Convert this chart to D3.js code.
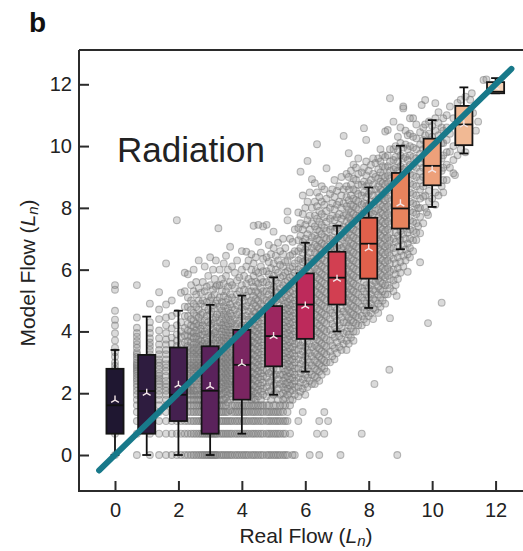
<!DOCTYPE html>
<html>
<head>
<meta charset="utf-8">
<script src="https://cdn.jsdelivr.net/npm/d3@7"></script>
<style>
  body { margin: 0; background: #fff; }
  svg { display: block; font-family: "Liberation Sans", Arial, sans-serif; }
</style>
</head>
<body>
<div id="chart"></div>
<script>
// box statistics per real-flow bin (ln units)
var bins        = [0, 1, 2, 3, 4, 5, 6, 7, 8, 9, 10, 11, 12];
var whiskerLow  = [0, 0, 0, 0, 0.69, 1.95, 2.70, 4.00, 4.76, 6.66, 8.03, 9.76, 11.71];
var q1          = [0.69, 0.69, 1.10, 0.69, 1.79, 2.87, 3.76, 4.87, 5.71, 7.33, 8.73, 10.03, 11.71];
var medians     = [1.61, 2.07, 1.95, 2.08, 2.92, 3.85, 4.87, 5.74, 6.84, 7.98, 9.36, 10.70, 11.76];
var q3          = [2.79, 3.24, 3.48, 3.52, 4.05, 4.82, 5.88, 6.58, 7.68, 9.13, 10.24, 11.30, 12.07];
var whiskerHigh = [3.40, 4.48, 4.67, 4.86, 5.16, 5.75, 6.87, 7.42, 8.66, 10.01, 10.84, 11.90, 12.20];
var means       = [1.78, 2.00, 2.26, 2.22, 2.96, 3.84, 4.82, 5.69, 6.68, 8.13, 9.22, 10.69, 11.90];
var boxColors   = ["#1f1731", "#2e1c3f", "#44204f", "#5a225b", "#7a2561", "#9c2760", "#bd2a5b",
                   "#d23f51", "#e0604b", "#e8835d", "#eda07a", "#f1b994", "#f6d3b8"];

var xTicks = [0, 2, 4, 6, 8, 10, 12];
var yTicks = [0, 2, 4, 6, 8, 10, 12];

// scattered (real, model) flow points, listed as columns: [x, [y, y, ...]]
var scatterColumns = [
  [0,    [0, 0.69, 1.10, 1.39, 1.61, 1.79, 1.95, 2.08, 2.2, 2.3, 2.4, 2.48, 2.56, 2.64, 2.77, 2.89, 3.0, 3.18, 3.33, 3.47, 3.71, 3.94, 4.19, 4.38, 4.67, 5.35, 5.5]],
  [0.69, [0, 0.69, 1.10, 1.39, 1.61, 1.79, 1.95, 2.08, 2.2, 2.3, 2.4, 2.48, 2.56, 2.64, 2.71, 2.77, 2.83, 2.89, 2.94, 3.0, 3.09, 3.18, 3.26, 3.33, 3.47, 3.58, 3.69, 3.83, 3.95, 4.12, 4.45, 5.5]],
  [1.10, [0, 0.69, 1.1, 1.39, 1.61, 1.79, 1.95, 2.08, 2.2, 2.3, 2.4, 2.56, 2.71, 2.83, 2.94, 3.09, 3.26, 3.4, 3.53, 3.64, 3.78, 3.95, 4.11, 4.3, 4.9]],
  [1.39, [0, 0.69, 1.1, 1.39, 1.61, 1.79, 1.95, 2.08, 2.2, 2.3, 2.4, 2.48, 2.56, 2.64, 2.77, 2.89, 3.0, 3.09, 3.26, 3.4, 3.58, 3.78, 4.03, 4.4, 4.71, 5.27]],
  [1.61, [0, 0.69, 1.1, 1.39, 1.61, 1.79, 1.95, 2.08, 2.2, 2.3, 2.4, 2.56, 2.71, 2.83, 2.94, 3.09, 3.26, 3.4, 3.58, 3.74, 3.95, 4.2, 4.45, 4.87, 6.2]],
  [1.79, [0, 0.69, 1.1, 1.39, 1.61, 2.08, 2.56, 3.0, 3.6, 3.8, 4.1, 4.5, 5.0]],
  [1.95, [0, 0.69, 1.1, 1.61, 2.3, 2.89, 3.53, 3.7, 3.9, 4.2, 4.6, 7.6]],
  [2.08, [0, 0.69, 1.1, 1.39, 1.95, 2.64, 3.58, 3.83, 4.0, 4.3, 5.25]],
  [2.20, [0, 0.69, 1.1, 1.61, 2.2, 3.0, 3.64, 3.87, 4.11, 4.5, 4.8, 5.3, 5.9]],
  [2.30, [0, 0.69, 1.1, 1.39, 1.61, 1.79, 1.95, 2.08, 2.2, 2.3, 2.4, 2.56, 2.71, 2.83, 2.94, 3.09, 3.26, 3.4, 3.53, 3.69, 3.87, 4.03, 4.25, 4.5, 4.79, 5.1, 5.85]],
  [2.40, [0, 0.69, 1.1, 1.39, 1.61, 1.79, 1.95, 2.08, 2.2, 2.3, 2.48, 2.64, 2.77, 2.89, 3.0, 3.18, 3.33, 3.47, 3.64, 3.83, 4.0, 4.2, 4.4, 4.7, 5.0, 5.5]],
  [2.48, [0, 0.69, 1.1, 1.39, 1.61, 1.79, 1.95, 2.08, 2.2, 2.4, 2.56, 2.71, 2.83, 2.94, 3.09, 3.26, 3.4, 3.58, 3.78, 3.95, 4.15, 4.35, 4.6, 4.9, 5.3, 6.0]],
  [2.56, [0, 0.69, 1.1, 1.39, 1.61, 1.79, 1.95, 2.08, 2.3, 2.48, 2.64, 2.77, 2.89, 3.0, 3.18, 3.33, 3.47, 3.64, 3.83, 4.03, 4.25, 4.5, 4.79, 5.2, 5.6]],
  [2.64, [0, 0.69, 1.1, 1.39, 1.61, 1.79, 1.95, 2.2, 2.4, 2.56, 2.71, 2.83, 2.94, 3.09, 3.26, 3.4, 3.58, 3.74, 3.95, 4.2, 4.45, 4.7, 5.0, 5.4, 6.3]],
  [2.71, [0, 0.69, 1.1, 1.39, 1.61, 1.79, 1.95, 2.08, 2.3, 2.48, 2.64, 2.77, 2.89, 3.0, 3.18, 3.33, 3.53, 3.69, 3.87, 4.08, 4.3, 4.55, 4.9, 5.25]],
  [2.77, [0, 0.69, 1.1, 1.61, 2.2, 3.6, 3.9, 4.2, 4.6, 5.0, 5.6]],
  [2.83, [0, 0.69, 1.39, 1.95, 2.64, 3.7, 4.0, 4.35, 4.8, 5.3, 6.1]],
  [2.89, [0, 0.69, 1.1, 1.79, 2.48, 3.58, 3.8, 4.1, 4.5, 4.95, 5.45]],
  [2.94, [0, 0.69, 1.61, 2.3, 3.0, 3.66, 3.95, 4.3, 4.7, 5.15, 5.8]],
  [3.00, [0, 0.69, 1.39, 2.08, 2.83, 3.55, 3.85, 4.2, 4.55, 5.0, 5.5, 6.4]],
  [3.04, [0, 0.69, 1.1, 1.95, 2.64, 3.6, 3.9, 4.25, 4.65, 5.1]],
  [3.09, [0, 0.69, 1.79, 2.56, 3.26, 3.75, 4.05, 4.4, 4.85, 5.35, 6.0]],
  [3.14, [0, 0.69, 1.39, 2.2, 3.0, 3.62, 3.95, 4.3, 4.75, 5.2, 5.7]],
  [3.18, [0, 0.69, 1.1, 1.95, 2.77, 3.7, 4.0, 4.45, 4.9, 5.45, 6.3]],
  [3.22, [0, 0.69, 1.61, 2.4, 3.18, 3.8, 4.15, 4.55, 5.0, 5.5]],
  [3.26, [7.34]],
  [3.30, [0, 0.69, 1.1, 1.39, 1.61, 1.79, 1.95, 2.08, 2.2, 2.4, 2.56, 2.71, 2.89, 3.05, 3.2, 3.38, 3.55, 3.72, 3.9, 4.1, 4.3, 4.55, 4.8, 5.1, 5.5, 6.0]],
  [3.37, [0, 0.69, 1.1, 1.39, 1.61, 1.79, 1.95, 2.15, 2.3, 2.48, 2.64, 2.8, 2.97, 3.12, 3.3, 3.47, 3.63, 3.8, 4.0, 4.2, 4.42, 4.68, 4.95, 5.3, 5.7]],
  [3.43, [0, 0.69, 1.1, 1.39, 1.61, 1.79, 2.0, 2.2, 2.36, 2.52, 2.7, 2.86, 3.02, 3.18, 3.35, 3.52, 3.7, 3.88, 4.08, 4.3, 4.55, 4.82, 5.15, 5.55, 6.2]],
  [3.50, [0, 0.69, 1.1, 1.39, 1.61, 1.85, 2.05, 2.25, 2.43, 2.6, 2.77, 2.93, 3.1, 3.27, 3.44, 3.6, 3.78, 3.97, 4.17, 4.4, 4.65, 4.95, 5.3, 5.8, 6.45]],
  [3.56, [0, 0.69, 1.1, 1.39, 1.7, 1.95, 2.12, 2.3, 2.5, 2.66, 2.83, 3.0, 3.16, 3.33, 3.5, 3.68, 3.86, 4.05, 4.25, 4.5, 4.75, 5.05, 5.45, 6.0]],
  [3.63, [0, 0.69, 1.1, 1.45, 1.79, 2.0, 2.2, 2.38, 2.56, 2.74, 2.9, 3.07, 3.24, 3.4, 3.58, 3.76, 3.95, 4.15, 4.37, 4.6, 4.88, 5.2, 5.6, 6.74]],
  [3.69, [0, 0.69, 1.1, 1.39, 1.61, 1.9, 2.1, 2.28, 2.46, 2.64, 2.82, 3.0, 3.15, 3.32, 3.5, 3.67, 3.85, 4.05, 4.27, 4.5, 4.78, 5.1, 5.5, 6.1]],
  [3.78, [0, 0.69, 1.1, 1.39, 1.61, 2.3, 3.1, 4.15, 4.4, 4.7, 5.0, 5.4, 5.9]],
  [3.85, [0, 0.69, 1.1, 1.39, 1.61, 2.6, 3.5, 4.25, 4.55, 4.85, 5.2, 5.65, 6.3]],
  [3.92, [0, 0.69, 1.1, 1.39, 1.61, 2.0, 2.9, 4.1, 4.35, 4.62, 4.95, 5.3, 5.75]],
  [4.00, [0, 0.69, 1.1, 1.39, 1.61, 2.4, 3.3, 4.2, 4.48, 4.78, 5.1, 5.5, 6.0, 6.6]],
  [4.07, [0, 0.69, 1.1, 1.39, 1.61, 2.2, 3.7, 4.12, 4.4, 4.7, 5.0, 5.35, 5.8]],
  [4.14, [0, 0.69, 1.1, 1.39, 1.61, 2.8, 4.18, 4.5, 4.82, 5.15, 5.55, 6.1, 6.58]],
  [4.21, [0, 0.69, 1.1, 1.39, 1.61, 2.5, 3.6, 4.1, 4.38, 4.65, 4.95, 5.3, 5.7, 6.3]],
  [4.30, [0, 0.69, 1.1, 1.39, 1.61, 1.79, 1.95, 2.1, 2.3, 2.5, 2.7, 2.9, 3.1, 3.3, 3.5, 3.7, 3.9, 4.1, 4.3, 4.5, 4.75, 5.0, 5.3, 5.6, 6.0, 6.5]],
  [4.37, [0, 0.69, 1.1, 1.39, 1.61, 1.85, 2.05, 2.25, 2.45, 2.65, 2.85, 3.05, 3.25, 3.45, 3.65, 3.85, 4.05, 4.25, 4.45, 4.65, 4.9, 5.15, 5.45, 5.8, 6.2, 7.42]],
  [4.44, [0, 0.69, 1.1, 1.39, 1.61, 1.79, 2.0, 2.2, 2.4, 2.6, 2.8, 3.0, 3.2, 3.4, 3.6, 3.8, 4.0, 4.2, 4.4, 4.6, 4.82, 5.05, 5.3, 5.6, 5.95, 6.4]],
  [4.52, [0, 0.69, 1.1, 1.39, 1.61, 1.9, 2.12, 2.32, 2.52, 2.72, 2.92, 3.12, 3.32, 3.52, 3.72, 3.92, 4.12, 4.32, 4.52, 4.75, 5.0, 5.25, 5.55, 5.9, 6.9, 7.45]],
  [4.60, [0, 0.69, 1.1, 1.39, 1.61, 1.79, 2.05, 2.25, 2.45, 2.65, 2.85, 3.05, 3.25, 3.45, 3.65, 3.85, 4.05, 4.25, 4.45, 4.68, 4.9, 5.15, 5.4, 5.7, 6.1, 6.55]],
  [4.67, [0, 0.69, 1.1, 1.39, 1.61, 1.95, 2.15, 2.35, 2.55, 2.75, 2.95, 3.15, 3.35, 3.55, 3.75, 3.95, 4.15, 4.35, 4.58, 4.8, 5.05, 5.3, 5.6, 5.95, 6.35, 7.4]],
  [4.78, [0, 0.69, 1.1, 1.39, 1.61, 1.9, 2.2, 2.5, 2.75, 5.0, 5.3, 5.6, 5.95, 6.4, 7.45]],
  [4.85, [0, 0.69, 1.1, 1.39, 1.61, 2.05, 2.35, 2.65, 4.95, 5.2, 5.5, 5.85, 6.25, 6.8]],
  [4.92, [0, 0.69, 1.1, 1.39, 1.79, 2.1, 2.4, 2.7, 5.05, 5.35, 5.7, 6.05, 6.5]],
  [5.00, [0, 0.69, 1.1, 1.39, 1.61, 1.95, 2.25, 2.55, 2.8, 4.9, 5.15, 5.45, 5.8, 6.2, 6.7, 7.23]],
  [5.07, [0, 0.69, 1.1, 1.39, 1.61, 2.0, 2.3, 2.6, 5.0, 5.3, 5.65, 6.0, 6.45]],
  [5.14, [0, 0.69, 1.1, 1.39, 1.79, 2.15, 2.45, 2.75, 4.95, 5.25, 5.55, 5.9, 6.3, 6.87]],
  [5.21, [0, 0.69, 1.1, 1.39, 1.61, 1.95, 2.3, 2.6, 5.05, 5.4, 5.75, 6.15, 6.6]],
  [5.30, [0, 0.69, 1.1, 1.39, 1.61, 1.79, 2.0, 2.2, 2.4, 2.6, 2.8, 3.0, 3.2, 3.4, 3.6, 3.8, 4.0, 4.2, 4.4, 4.6, 4.8, 5.0, 5.25, 5.5, 5.8, 6.1, 6.5, 7.0]],
  [5.37, [0, 0.69, 1.1, 1.61, 1.85, 2.1, 2.3, 2.5, 2.7, 2.9, 3.1, 3.3, 3.5, 3.7, 3.9, 4.1, 4.3, 4.5, 4.7, 4.9, 5.12, 5.35, 5.6, 5.9, 6.25, 6.7]],
  [5.44, [0, 1.1, 1.39, 1.95, 2.15, 2.35, 2.55, 2.75, 2.95, 3.15, 3.35, 3.55, 3.75, 3.95, 4.15, 4.35, 4.55, 4.75, 4.95, 5.18, 5.4, 5.65, 5.95, 6.3, 7.6, 7.88]],
  [5.52, [0.69, 1.61, 1.79, 2.05, 2.25, 2.45, 2.65, 2.85, 3.05, 3.25, 3.45, 3.65, 3.85, 4.05, 4.25, 4.45, 4.65, 4.85, 5.05, 5.28, 5.5, 5.75, 6.05, 6.45, 7.0]],
  [5.60, [0, 1.79, 2.1, 2.3, 2.5, 2.7, 2.9, 3.1, 3.3, 3.5, 3.7, 3.9, 4.1, 4.3, 4.5, 4.7, 4.9, 5.1, 5.32, 5.55, 5.8, 6.1, 6.5, 6.9]],
  [5.67, [0, 1.95, 2.2, 2.4, 2.6, 2.8, 3.0, 3.2, 3.4, 3.6, 3.8, 4.0, 4.2, 4.4, 4.6, 4.8, 5.0, 5.2, 5.42, 5.65, 5.9, 6.2, 6.6, 7.3]],
  [5.78, [1.1, 1.9, 2.2, 2.5, 2.8, 3.1, 3.4, 3.65, 6.0, 6.3, 6.6, 6.95, 7.35, 7.85]],
  [5.85, [2.05, 2.35, 2.65, 2.95, 3.25, 3.55, 6.05, 6.35, 6.7, 7.1, 7.5, 9.17]],
  [5.92, [1.39, 2.15, 2.45, 2.75, 3.05, 3.35, 3.65, 5.95, 6.25, 6.55, 6.9, 7.3, 7.8, 8.4]],
  [6.00, [1.95, 2.3, 2.6, 2.9, 3.2, 3.5, 6.0, 6.3, 6.65, 7.0, 7.45, 8.0]],
  [6.07, [2.2, 2.5, 2.8, 3.1, 3.4, 3.7, 6.1, 6.4, 6.75, 7.15, 7.6, 8.2, 9.52]],
  [6.14, [0, 2.4, 2.7, 3.0, 3.3, 3.6, 5.95, 6.25, 6.55, 6.9, 7.3, 7.75, 8.5]],
  [6.21, [2.3, 2.6, 2.9, 3.2, 3.5, 6.05, 6.35, 6.7, 7.05, 7.5, 8.0, 8.93]],
  [6.30, [2.3, 2.55, 2.8, 3.05, 3.3, 3.55, 3.8, 4.05, 4.3, 4.55, 4.8, 5.05, 5.3, 5.55, 5.8, 6.05, 6.3, 6.55, 6.8, 7.1, 7.4, 7.75, 8.2, 8.8]],
  [6.37, [0.69, 2.5, 2.75, 3.0, 3.25, 3.5, 3.75, 4.0, 4.25, 4.5, 4.75, 5.0, 5.25, 5.5, 5.75, 6.0, 6.25, 6.5, 6.75, 7.0, 7.3, 7.65, 8.05, 8.5, 10.06]],
  [6.44, [0, 1.1, 2.4, 2.7, 2.95, 3.2, 3.45, 3.7, 3.95, 4.2, 4.45, 4.7, 4.95, 5.2, 5.45, 5.7, 5.95, 6.2, 6.45, 6.7, 6.95, 7.25, 7.55, 7.9, 8.35]],
  [6.52, [2.6, 2.85, 3.1, 3.35, 3.6, 3.85, 4.1, 4.35, 4.6, 4.85, 5.1, 5.35, 5.6, 5.85, 6.1, 6.35, 6.6, 6.85, 7.15, 7.45, 7.8, 8.2, 8.7]],
  [6.60, [0.69, 1.39, 2.8, 3.05, 3.3, 3.55, 3.8, 4.05, 4.3, 4.55, 4.8, 5.05, 5.3, 5.55, 5.8, 6.05, 6.3, 6.55, 6.8, 7.05, 7.35, 7.7, 8.1, 8.6]],
  [6.67, [2.7, 3.0, 3.25, 3.5, 3.75, 4.0, 4.25, 4.5, 4.75, 5.0, 5.25, 5.5, 5.75, 6.0, 6.25, 6.5, 6.75, 7.0, 7.25, 7.55, 7.9, 8.3, 9.28]],
  [6.72, [1.1]],
  [6.78, [3.0, 3.35, 3.7, 4.05, 4.4, 4.7, 6.7, 7.0, 7.3, 7.65, 8.0, 8.45]],
  [6.85, [3.2, 3.55, 3.9, 4.25, 4.6, 6.75, 7.05, 7.4, 7.75, 8.15, 8.6]],
  [6.92, [3.1, 3.45, 3.8, 4.15, 4.5, 4.8, 6.65, 6.95, 7.25, 7.6, 7.95, 8.35, 8.9]],
  [7.00, [3.3, 3.65, 4.0, 4.35, 4.7, 6.7, 7.0, 7.35, 7.7, 8.1, 8.55]],
  [7.07, [3.5, 3.85, 4.2, 4.55, 6.8, 7.1, 7.45, 7.8, 8.2, 8.7]],
  [7.11, [0]],
  [7.14, [3.4, 3.75, 4.1, 4.45, 4.75, 6.7, 7.0, 7.3, 7.65, 8.0, 8.4, 9.0]],
  [7.21, [3.6, 3.95, 4.3, 4.65, 6.75, 7.05, 7.4, 7.75, 8.15, 8.6, 10.33]],
  [7.30, [3.4, 3.7, 4.0, 4.3, 4.55, 4.8, 5.05, 5.3, 5.55, 5.8, 6.05, 6.3, 6.55, 6.8, 7.05, 7.3, 7.55, 7.8, 8.05, 8.35, 8.7, 9.1]],
  [7.37, [3.6, 3.9, 4.2, 4.45, 4.7, 4.95, 5.2, 5.45, 5.7, 5.95, 6.2, 6.45, 6.7, 6.95, 7.2, 7.45, 7.7, 7.95, 8.25, 8.6, 9.0, 9.77]],
  [7.44, [3.8, 4.1, 4.35, 4.6, 4.85, 5.1, 5.35, 5.6, 5.85, 6.1, 6.35, 6.6, 6.85, 7.1, 7.35, 7.6, 7.85, 8.1, 8.4, 8.75, 9.2]],
  [7.52, [3.7, 4.0, 4.3, 4.55, 4.8, 5.05, 5.3, 5.55, 5.8, 6.05, 6.3, 6.55, 6.8, 7.05, 7.3, 7.55, 7.8, 8.05, 8.3, 8.6, 8.95, 9.4]],
  [7.60, [4.0, 4.25, 4.5, 4.75, 5.0, 5.25, 5.5, 5.75, 6.0, 6.25, 6.5, 6.75, 7.0, 7.25, 7.5, 7.75, 8.0, 8.25, 8.55, 8.9, 9.3]],
  [7.67, [4.2, 4.45, 4.7, 4.95, 5.2, 5.45, 5.7, 5.95, 6.2, 6.45, 6.7, 6.95, 7.2, 7.45, 7.7, 7.95, 8.2, 8.45, 8.75, 9.1, 9.6]],
  [7.78, [0.69, 4.2, 4.5, 4.8, 5.1, 5.4, 7.8, 8.1, 8.4, 8.75, 9.15]],
  [7.85, [4.4, 4.7, 5.0, 5.3, 5.6, 7.85, 8.15, 8.5, 8.85, 9.3, 10.58]],
  [7.92, [4.3, 4.6, 4.9, 5.2, 5.5, 7.75, 8.05, 8.35, 8.7, 9.05, 9.5, 10.2]],
  [8.00, [4.5, 4.8, 5.1, 5.4, 7.8, 8.1, 8.45, 8.8, 9.2]],
  [8.07, [4.6, 4.9, 5.2, 5.5, 7.85, 8.2, 8.55, 8.9, 9.39]],
  [8.14, [4.4, 4.75, 5.05, 5.35, 5.65, 7.8, 8.1, 8.4, 8.75, 9.1, 9.6]],
  [8.18, [2.3]],
  [8.21, [4.7, 5.0, 5.3, 5.6, 7.9, 8.25, 8.6, 9.0, 9.45]],
  [8.30, [4.6, 4.9, 5.2, 5.45, 5.7, 5.95, 6.2, 6.45, 6.7, 6.95, 7.2, 7.45, 7.7, 7.95, 8.2, 8.45, 8.7, 8.95, 9.25, 9.6]],
  [8.37, [4.8, 5.1, 5.35, 5.6, 5.85, 6.1, 6.35, 6.6, 6.85, 7.1, 7.35, 7.6, 7.85, 8.1, 8.35, 8.6, 8.85, 9.15, 9.5, 9.9]],
  [8.44, [5.0, 5.3, 5.55, 5.8, 6.05, 6.3, 6.55, 6.8, 7.05, 7.3, 7.55, 7.8, 8.05, 8.3, 8.55, 8.8, 9.05, 9.35, 9.71]],
  [8.52, [4.9, 5.2, 5.5, 5.75, 6.0, 6.25, 6.5, 6.75, 7.0, 7.25, 7.5, 7.75, 8.0, 8.25, 8.5, 8.75, 9.0, 9.3, 9.65, 10.47]],
  [8.60, [5.2, 5.5, 5.8, 6.05, 6.3, 6.55, 6.8, 7.05, 7.3, 7.55, 7.8, 8.05, 8.3, 8.55, 8.8, 9.05, 9.35, 9.7, 10.52]],
  [8.65, [2.76]],
  [8.67, [4.43, 5.4, 5.7, 5.95, 6.2, 6.45, 6.7, 6.95, 7.2, 7.45, 7.7, 7.95, 8.2, 8.45, 8.7, 8.95, 9.2, 9.5, 9.9, 11.55]],
  [8.78, [5.3, 5.65, 6.0, 6.35, 6.7, 7.0, 9.25, 9.55, 9.9, 10.79]],
  [8.85, [5.5, 5.85, 6.2, 6.55, 6.9, 7.2, 9.3, 9.65, 10.0]],
  [8.88, [5.15]],
  [8.90, [0]],
  [8.92, [5.7, 6.05, 6.4, 6.75, 7.1, 9.2, 9.5, 9.85, 10.3]],
  [9.00, [5.9, 6.25, 6.6, 6.95, 7.25, 9.35, 9.7, 10.1, 10.6]],
  [9.09, [6.1, 6.45, 6.8, 7.15, 9.25, 9.6, 9.95, 11.22, 11.28]],
  [9.16, [6.3, 6.65, 7.0, 9.3, 9.65, 10.05, 10.5]],
  [9.23, [5.93, 6.5, 6.85, 7.2, 9.2, 9.55, 9.9, 10.35]],
  [9.30, [6.4, 6.7, 7.0, 7.3, 7.6, 7.9, 8.2, 8.5, 8.8, 9.1, 9.4, 9.7, 10.0, 10.4, 10.9]],
  [9.40, [6.6, 6.95, 7.25, 7.55, 7.85, 8.15, 8.45, 8.75, 9.05, 9.35, 9.65, 9.95, 10.3, 10.9]],
  [9.50, [6.96, 7.2, 7.5, 7.8, 8.1, 8.4, 8.7, 9.0, 9.3, 9.6, 9.9, 10.25, 10.7]],
  [9.56, [7.41, 7.99]],
  [9.62, [6.24, 7.18, 7.71, 8.0, 8.3, 8.6, 8.9, 9.17, 9.45, 9.75, 10.05, 10.45]],
  [9.67, [11.33]],
  [9.72, [7.5, 8.36, 8.7, 9.0, 9.3, 9.6, 9.9, 10.2, 10.6]],
  [9.83, [7.86]],
  [9.87, [4.27, 7.77]],
  [9.78, [8.0, 8.4, 10.35, 10.7, 11.49]],
  [9.90, [8.2, 8.55, 10.4, 10.8]],
  [10.00, [8.3, 10.3, 10.65]],
  [10.10, [8.1, 8.5, 10.5, 10.9, 11.39]],
  [10.20, [8.4, 10.35, 10.75, 11.1]],
  [10.30, [4.93, 8.7, 9.2, 9.6, 10.1, 10.6]],
  [10.35, [8.5, 8.9, 9.3, 9.7, 10.1, 10.5, 10.9]],
  [10.46, [8.9, 9.4, 9.8, 10.2, 10.6, 11.0]],
  [10.56, [9.3, 9.82, 10.4, 11.28]],
  [10.67, [9.12, 9.55, 10.0, 10.9]],
  [10.72, [9.06]],
  [10.80, [9.7, 11.4]],
  [10.90, [9.9, 11.5]],
  [11.05, [9.8, 11.6]],
  [11.20, [11.5]],
  [11.25, [11.71]],
  [11.29, [11.07]],
  [11.38, [10.5]],
  [11.45, [10.79]],
  [11.62, [12.14]],
  [11.71, [12.16]],
  [11.90, [11.9]],
  [12.10, [12.0]]
];

var width = 523, height = 551;
var margin = {top: 50, right: 3, bottom: 60, left: 79};

var svg = d3.select("#chart").append("svg")
  .attr("width", width)
  .attr("height", height);

var x = d3.scaleLinear().domain([-1.135, 12.77]).range([margin.left, width - margin.right]);
var y = d3.scaleLinear().domain([-1.165, 13.11]).range([height - margin.bottom, margin.top]);

// flatten columns into points
var points = [];
scatterColumns.forEach(function(c) {
  c[1].forEach(function(v) { points.push({x: c[0], y: v}); });
});

var plot = svg.append("g");

plot.append("g").selectAll("circle")
  .data(points)
  .enter().append("circle")
  .attr("cx", function(d) { return x(d.x); })
  .attr("cy", function(d) { return y(d.y); })
  .attr("r", 3.4)
  .attr("fill", "#858585")
  .attr("fill-opacity", 0.3)
  .attr("stroke", "#777")
  .attr("stroke-opacity", 0.5)
  .attr("stroke-width", 1.1);

// box plots
var boxW = x(0.27) - x(0), capW = x(0.14) - x(0);
var boxes = plot.append("g").selectAll("g")
  .data(bins)
  .enter().append("g");

boxes.append("line")
  .attr("x1", function(d) { return x(d); })
  .attr("x2", function(d) { return x(d); })
  .attr("y1", function(d, i) { return y(whiskerLow[i]); })
  .attr("y2", function(d, i) { return y(whiskerHigh[i]); })
  .attr("stroke", "#111").attr("stroke-width", 1.8);

[whiskerLow, whiskerHigh].forEach(function(arr) {
  boxes.append("line")
    .attr("x1", function(d) { return x(d) - capW; })
    .attr("x2", function(d) { return x(d) + capW; })
    .attr("y1", function(d, i) { return y(arr[i]); })
    .attr("y2", function(d, i) { return y(arr[i]); })
    .attr("stroke", "#111").attr("stroke-width", 1.8);
});

boxes.append("rect")
  .attr("x", function(d) { return x(d) - boxW; })
  .attr("width", 2 * boxW)
  .attr("y", function(d, i) { return y(q3[i]); })
  .attr("height", function(d, i) { return y(q1[i]) - y(q3[i]); })
  .attr("fill", function(d, i) { return boxColors[i]; })
  .attr("stroke", "#151515").attr("stroke-width", 1.8);

boxes.append("line")
  .attr("x1", function(d) { return x(d) - boxW; })
  .attr("x2", function(d) { return x(d) + boxW; })
  .attr("y1", function(d, i) { return y(medians[i]); })
  .attr("y2", function(d, i) { return y(medians[i]); })
  .attr("stroke", "#111").attr("stroke-width", 1.8);

// mean marker (tri_up)
var r = 4.5, s = r * Math.sin(Math.PI / 3), c = r * Math.cos(Math.PI / 3);
boxes.append("path")
  .attr("transform", function(d, i) { return "translate(" + x(d) + "," + y(means[i]) + ")"; })
  .attr("d", "M0,0L0," + (-r) + "M0,0L" + s + "," + c + "M0,0L" + (-s) + "," + c)
  .attr("fill", "none")
  .attr("stroke", "#f3e6e8").attr("stroke-width", 1.4);

// identity line
plot.append("line")
  .attr("x1", x(-0.5)).attr("y1", y(-0.5))
  .attr("x2", x(12.5)).attr("y2", y(12.5))
  .attr("stroke", "#18798a")
  .attr("stroke-width", 6)
  .attr("stroke-linecap", "round");

// frame and axes
var axisColor = "#2b2b2b";
svg.append("line")
  .attr("x1", margin.left).attr("x2", width + 2)
  .attr("y1", margin.top).attr("y2", margin.top)
  .attr("stroke", axisColor).attr("stroke-width", 2);

var xAxis = svg.append("g")
  .attr("transform", "translate(0," + (height - margin.bottom) + ")")
  .call(d3.axisBottom(x).tickValues(xTicks).tickSize(-10).tickPadding(12).tickSizeOuter(0));
var yAxis = svg.append("g")
  .attr("transform", "translate(" + margin.left + ",0)")
  .call(d3.axisLeft(y).tickValues(yTicks).tickSize(-10).tickPadding(7).tickSizeOuter(0));

[xAxis, yAxis].forEach(function(a) {
  a.select(".domain").attr("stroke", axisColor).attr("stroke-width", 2);
  a.selectAll(".tick line").attr("stroke", axisColor).attr("stroke-width", 2);
  a.selectAll(".tick text")
    .attr("fill", "#222")
    .style("font-size", "20px")
    .style("font-family", "'Liberation Sans', Arial, sans-serif");
});
// extend domains to the frame corners
xAxis.select(".domain").attr("d", "M" + margin.left + ",0H" + (width + 2));
yAxis.select(".domain").attr("d", "M0," + margin.top + "V" + (height - margin.bottom + 1));

// labels
var xl = svg.append("text")
  .attr("x", 306).attr("y", 543)
  .attr("text-anchor", "middle")
  .attr("fill", "#222")
  .style("font-size", "21px");
xl.append("tspan").text("Real Flow (");
xl.append("tspan").attr("font-style", "italic").text("L");
xl.append("tspan").attr("font-style", "italic").attr("font-size", "15px").attr("dy", 3).text("n");
xl.append("tspan").attr("dy", -3).text(")");

var yl = svg.append("text")
  .attr("transform", "translate(35,273) rotate(-90)")
  .attr("text-anchor", "middle")
  .attr("fill", "#222")
  .style("font-size", "21px");
yl.append("tspan").text("Model Flow (");
yl.append("tspan").attr("font-style", "italic").text("L");
yl.append("tspan").attr("font-style", "italic").attr("font-size", "15px").attr("dy", 3).text("n");
yl.append("tspan").attr("dy", -3).text(")");

svg.append("text")
  .attr("x", 117).attr("y", 162)
  .attr("fill", "#222")
  .style("font-size", "35px")
  .text("Radiation");

svg.append("text")
  .attr("x", 29).attr("y", 32)
  .attr("fill", "#111")
  .style("font-size", "28px")
  .style("font-weight", "bold")
  .text("b");
</script>
</body>
</html>
